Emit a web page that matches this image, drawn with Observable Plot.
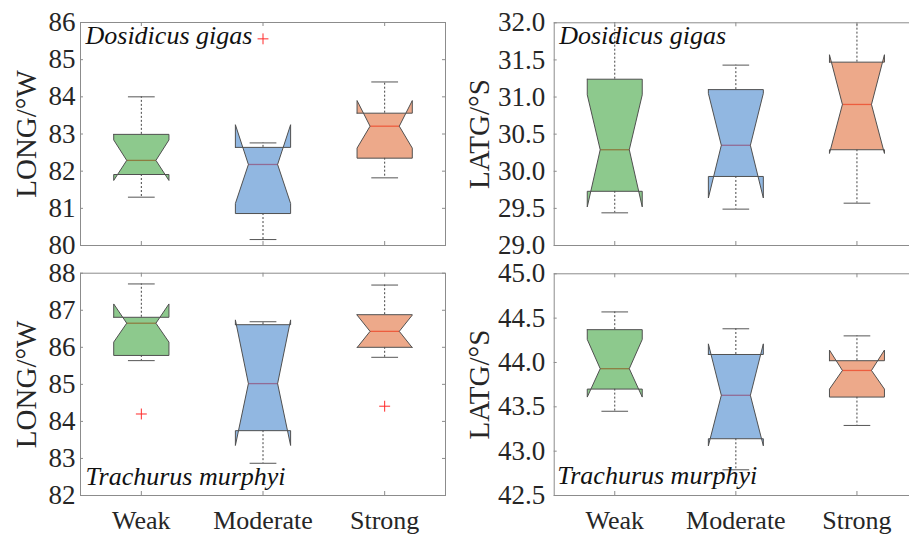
<!DOCTYPE html>
<html><head><meta charset="utf-8">
<script src="https://cdn.jsdelivr.net/npm/d3@7"></script>
<script src="https://cdn.jsdelivr.net/npm/@observablehq/plot@0.6"></script>
<style>
html,body{margin:0;padding:0;background:#fff;}
#chart{position:relative;width:909px;height:534px;overflow:hidden;background:#fff;}
#chart > svg{position:absolute;}
#chart svg text{font-family:'Liberation Serif','Times New Roman',serif;}
</style></head>
<body><div id="chart"></div>
<script>
// ---- categories & labels ----
const categories = ["Weak", "Moderate", "Strong"];
const boxColors = ["#5cb25c", "#6398d4", "#e58458"];
const speciesTop = "Dosidicus gigas";
const speciesBottom = "Trachurus murphyi";
const labelLong = "LONG/°W";
const labelLat = "LATG/°S";

// ---- Top-left: Dosidicus gigas, longitude ----
const tlWhiskerLo = [81.30, 80.16, 81.82];
const tlQ1        = [81.91, 80.86, 82.35];
const tlMedian    = [82.29, 82.18, 83.21];
const tlQ3        = [82.99, 82.64, 83.56];
const tlWhiskerHi = [84.00, 82.76, 84.40];
const tlNotchLo   = [81.75, 81.13, 82.62];
const tlNotchHi   = [82.84, 83.25, 83.90];
const tlOutlierCat = ["Moderate"];
const tlOutlierVal = [85.56];
const tlTicks = [80, 81, 82, 83, 84, 85, 86];

// ---- Top-right: Dosidicus gigas, latitude ----
const trWhiskerLo = [29.44, 29.49, 29.57];
const trQ1        = [29.73, 29.93, 30.29];
const trMedian    = [30.29, 30.35, 30.90];
const trQ3        = [31.24, 31.10, 31.47];
const trWhiskerHi = [32.20, 31.43, 32.20];
const trNotchLo   = [29.52, 29.64, 30.24];
const trNotchHi   = [31.03, 31.05, 31.57];
const trOutlierCat = [];
const trOutlierVal = [];
const trTicks = [29.0, 29.5, 30.0, 30.5, 31.0, 31.5, 32.0];

// ---- Bottom-left: Trachurus murphyi, longitude ----
const blWhiskerLo = [85.64, 82.87, 85.73];
const blQ1        = [85.78, 83.75, 86.00];
const blMedian    = [86.65, 85.02, 86.43];
const blQ3        = [86.81, 86.61, 86.88];
const blWhiskerHi = [87.71, 86.69, 87.68];
const blNotchLo   = [86.14, 83.35, 85.99];
const blNotchHi   = [87.17, 86.74, 86.87];
const blOutlierCat = ["Weak", "Strong"];
const blOutlierVal = [84.20, 84.41];
const blTicks = [82, 83, 84, 85, 86, 87, 88];

// ---- Bottom-right: Trachurus murphyi, latitude ----
const brWhiskerLo = [43.45, 42.79, 43.29];
const brQ1        = [43.70, 43.14, 43.61];
const brMedian    = [43.93, 43.63, 43.91];
const brQ3        = [44.37, 44.09, 44.02];
const brWhiskerHi = [44.57, 44.38, 44.30];
const brNotchLo   = [43.61, 43.06, 43.70];
const brNotchHi   = [44.26, 44.21, 44.14];
const brOutlierCat = [];
const brOutlierVal = [];
const brTicks = [42.5, 43.0, 43.5, 44.0, 44.5, 45.0];

// ---- helpers ----
const BOX_HALF = 0.227, NOTCH_HALF = 0.12, CAP_HALF = 0.11;
const FRAME = "#8c8c8c", INK = "#262626", OUTLINE = "#505050";
const SERIF = "'Liberation Serif','Times New Roman',serif";

function rowsOf(wLo, q1, med, q3, wHi, nLo, nHi) {
  return categories.map((c, i) => ({cat: c, pos: i + 1, wLo: wLo[i], q1: q1[i], med: med[i], q3: q3[i], wHi: wHi[i], nLo: nLo[i], nHi: nHi[i]}));
}
function polygon(r) {
  const x = r.pos, w = BOX_HALF, n = NOTCH_HALF;
  return [[x-w, r.q3], [x-w, r.nHi], [x-n, r.med], [x-w, r.nLo], [x-w, r.q1],
          [x+w, r.q1], [x+w, r.nLo], [x+n, r.med], [x+w, r.nHi], [x+w, r.q3], [x-w, r.q3]]
    .map(([px, py]) => ({x: px, y: py}));
}

function panel(o) {
  const plotW = o.width - o.ml - o.mr, plotH = o.height - o.mt - o.mb;
  const rows = o.rows;
  const outliers = o.outCat.map((c, i) => ({pos: categories.indexOf(c) + 1, v: o.outVal[i]}));
  const catPos = categories.map((c, i) => i + 1);
  const marks = [
    // whiskers
    Plot.ruleX(rows, {x: "pos", y1: "q3", y2: "wHi", stroke: "#444", strokeDasharray: "2,2", clip: true}),
    Plot.ruleX(rows, {x: "pos", y1: "q1", y2: "wLo", stroke: "#444", strokeDasharray: "2,2", clip: true}),
    Plot.link(rows, {x1: d => d.pos - CAP_HALF, x2: d => d.pos + CAP_HALF, y1: "wHi", y2: "wHi", stroke: "#555", clip: true}),
    Plot.link(rows, {x1: d => d.pos - CAP_HALF, x2: d => d.pos + CAP_HALF, y1: "wLo", y2: "wLo", stroke: "#555", clip: true}),
    // medians (under semi-transparent boxes)
    Plot.link(rows, {x1: d => d.pos - NOTCH_HALF, x2: d => d.pos + NOTCH_HALF, y1: "med", y2: "med", stroke: "#ff0000", strokeWidth: 1.3}),
    // notched boxes
    ...rows.map((r, i) => Plot.line(polygon(r), {x: "x", y: "y", fill: boxColors[i], fillOpacity: 0.7, stroke: OUTLINE, strokeWidth: 1, curve: "linear"})),
    // outliers
    Plot.dot(outliers, {x: "pos", y: "v", symbol: "plus", stroke: "#ff2a2a", r: 3.6, strokeWidth: 1}),
    // frame + inward ticks
    Plot.frame({stroke: FRAME}),
    Plot.tickX(catPos, {x: d => d, insetTop: plotH - 4, stroke: FRAME}),
    Plot.tickX(catPos, {x: d => d, insetBottom: plotH - 4, stroke: FRAME}),
    Plot.tickY(o.ticks, {y: d => d, insetRight: plotW - 3, stroke: FRAME}),
    Plot.tickY(o.ticks, {y: d => d, insetLeft: plotW - 3, stroke: FRAME}),
    // axes
    Plot.axisY({ticks: o.ticks, tickFormat: o.fmt, tickSize: 0, tickPadding: o.tickPad, label: null, fill: INK, fontSize: 27, fontFamily: SERIF}),
    // species label
    Plot.text([o.species], {frameAnchor: o.speciesBottom ? "bottom-left" : "top-left", textAnchor: "start", lineAnchor: "top",
      dx: o.spDx, dy: o.spDy, fontSize: 26, fontStyle: "italic", fontFamily: SERIF, fill: "#111"}),
    // y label
    Plot.text([o.yLabel], {frameAnchor: "left", rotate: -90, textAnchor: "middle", lineAnchor: "middle", dx: o.yLabDx, fontSize: 29, fontFamily: SERIF, fill: INK})
  ];
  if (o.showX) marks.push(Plot.axisX({ticks: catPos, tickFormat: d => categories[d - 1], tickSize: 0, tickPadding: 15, label: null, fill: INK, fontSize: 26, fontFamily: SERIF}));
  const svg = Plot.plot({
    width: o.width, height: o.height,
    marginLeft: o.ml, marginRight: o.mr, marginTop: o.mt, marginBottom: o.mb,
    x: {type: "linear", domain: [0.5, 3.5], axis: null},
    y: {domain: o.domain, axis: null},
    style: `background:none;font-family:${SERIF};font-size:27px;color:${INK};overflow:visible;max-width:none;position:absolute;left:${o.left}px;top:${o.top}px;`,
    marks
  });
  return svg;
}

const chart = document.getElementById("chart");
const intFmt = d3.format("d"), decFmt = d3.format(".1f");

chart.append(panel({
  left: 0, top: 0, width: 455, height: 259, ml: 80, mr: 10, mt: 22, mb: 14,
  rows: rowsOf(tlWhiskerLo, tlQ1, tlMedian, tlQ3, tlWhiskerHi, tlNotchLo, tlNotchHi),
  outCat: tlOutlierCat, outVal: tlOutlierVal, domain: [80, 86], ticks: tlTicks, fmt: intFmt, tickPad: 5,
  species: speciesTop, speciesBottom: false, spDx: 5, spDy: 3, yLabel: labelLong, yLabDx: -54, showX: false
}));
chart.append(panel({
  left: 455, top: 0, width: 462, height: 259, ml: 98.7, mr: 0, mt: 22.3, mb: 14,
  rows: rowsOf(trWhiskerLo, trQ1, trMedian, trQ3, trWhiskerHi, trNotchLo, trNotchHi),
  outCat: trOutlierCat, outVal: trOutlierVal, domain: [29, 32], ticks: trTicks, fmt: decFmt, tickPad: 9,
  species: speciesTop, speciesBottom: false, spDx: 5, spDy: 3, yLabel: labelLat, yLabDx: -74, showX: false
}));
chart.append(panel({
  left: 0, top: 259, width: 455, height: 275, ml: 80, mr: 10, mt: 13.7, mb: 39,
  rows: rowsOf(blWhiskerLo, blQ1, blMedian, blQ3, blWhiskerHi, blNotchLo, blNotchHi),
  outCat: blOutlierCat, outVal: blOutlierVal, domain: [82, 88], ticks: blTicks, fmt: intFmt, tickPad: 5,
  species: speciesBottom, speciesBottom: true, spDx: 5, spDy: -28.5, yLabel: labelLong, yLabDx: -54, showX: true
}));
chart.append(panel({
  left: 455, top: 259, width: 462, height: 275, ml: 98.7, mr: 0, mt: 14.3, mb: 39,
  rows: rowsOf(brWhiskerLo, brQ1, brMedian, brQ3, brWhiskerHi, brNotchLo, brNotchHi),
  outCat: brOutlierCat, outVal: brOutlierVal, domain: [42.5, 45], ticks: brTicks, fmt: decFmt, tickPad: 9,
  species: speciesBottom, speciesBottom: true, spDx: 3, spDy: -29.5, yLabel: labelLat, yLabDx: -74, showX: true
}));
</script>
</body></html>
